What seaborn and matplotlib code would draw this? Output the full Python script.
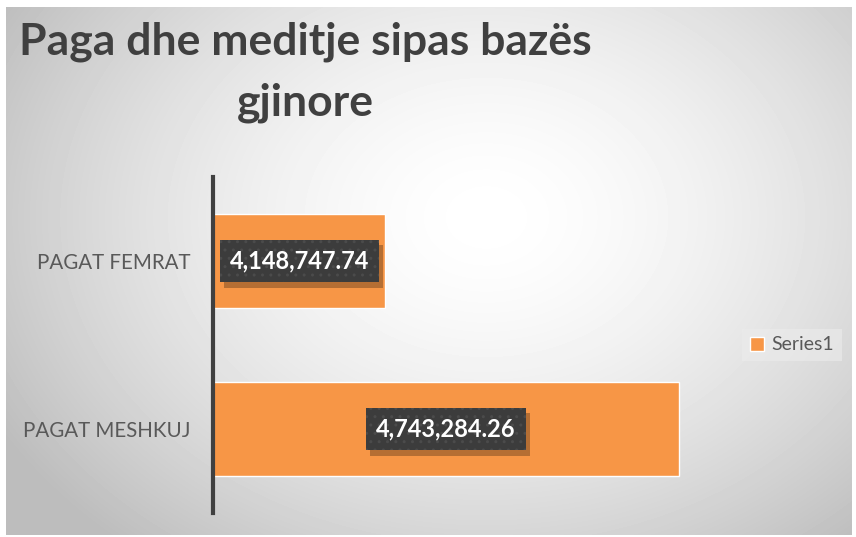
import matplotlib
matplotlib.use("Agg")
import matplotlib.pyplot as plt
import matplotlib.patheffects as pe
import numpy as np
import seaborn as sns

# data
categories = ["PAGAT FEMRAT", "PAGAT MESHKUJ"]
values = [4148747.74, 4743284.26]
series_name = "Series1"
title = "Paga dhe meditje sipas bazës\ngjinore"
x_min, x_max = 3800000, 4800000

ORANGE = "#F79646"
DARK = "#404040"


class FlatShadow(pe.SimplePatchShadow):
    # same as SimplePatchShadow, but the shadow is not hatched
    def draw_path(self, renderer, gc, tpath, affine, rgbFace):
        g = renderer.new_gc()
        g.copy_properties(gc)
        g.set_hatch(None)
        super().draw_path(renderer, g, tpath, affine, rgbFace)
        g.restore()


sns.set_theme(style="white")
plt.rcParams["font.family"] = ["Lato", "DejaVu Sans"]

W, H = 856, 537
fig = plt.figure(figsize=(W / 100, H / 100), dpi=100)
fig.patch.set_facecolor("white")

# radial grey background of the chart area
bg = fig.add_axes([6 / W, 2 / H, 846 / W, 528 / H], zorder=-1)
yy, xx = np.mgrid[0:528, 0:846]
r = np.hypot((xx - 480) / 560, (yy - 210) / 430)
shade = np.clip(1.0 - 0.26 * r**1.6, 0.74, 1.0)
bg.imshow(shade, cmap="gray", vmin=0, vmax=1, aspect="auto", interpolation="bilinear")
bg.set_axis_off()

ax = fig.add_axes([213 / W, 24 / H, 494 / W, 336 / H])
ax.patch.set_alpha(0)
sns.barplot(x=values, y=categories, color=ORANGE, width=0.56, saturation=1,
            label=series_name, ax=ax)
if ax.get_legend() is not None:
    ax.get_legend().remove()
ax.set_xlim(x_min, x_max)
ax.set_ylim(1.5, -0.5)

for s in ["top", "right", "bottom"]:
    ax.spines[s].set_visible(False)
ax.spines["left"].set_color(DARK)
ax.spines["left"].set_linewidth(3)
ax.spines["left"].set_zorder(5)
ax.set_xticks([])
ax.set_xlabel("")
ax.set_ylabel("")
ax.tick_params(axis="y", length=0, pad=16, labelsize=14.8, labelcolor="#595959")

labels = ax.bar_label(
    ax.containers[0],
    labels=[f"{v:,.2f}" for v in values],
    label_type="center",
    color="white",
    fontsize=17,
    fontweight="bold",
    bbox=dict(boxstyle="square,pad=0.42", facecolor="#3c3c3c",
              edgecolor="#4b4b4b", linewidth=0, hatch=".."),
)
for t in labels:
    t.set_zorder(7)
    t.get_bbox_patch().set_path_effects(
        [FlatShadow(offset=(3, -4), shadow_rgbFace="#3a2410", alpha=0.35), pe.Normal()]
    )

fig.legend(
    loc="center",
    bbox_to_anchor=(792 / W, 1 - 345 / H),
    frameon=True,
    facecolor="#ececec",
    edgecolor="none",
    framealpha=0.6,
    fancybox=False,
    fontsize=14,
    labelcolor="#595959",
    handlelength=0.7,
    handleheight=0.7,
    handletextpad=0.4,
)

fig.text(305 / W, 1 - 22 / H, title, ha="center", va="top", multialignment="center",
         fontsize=32, fontweight="bold", color=DARK, linespacing=1.6)

fig.savefig("out.png", dpi=100)
